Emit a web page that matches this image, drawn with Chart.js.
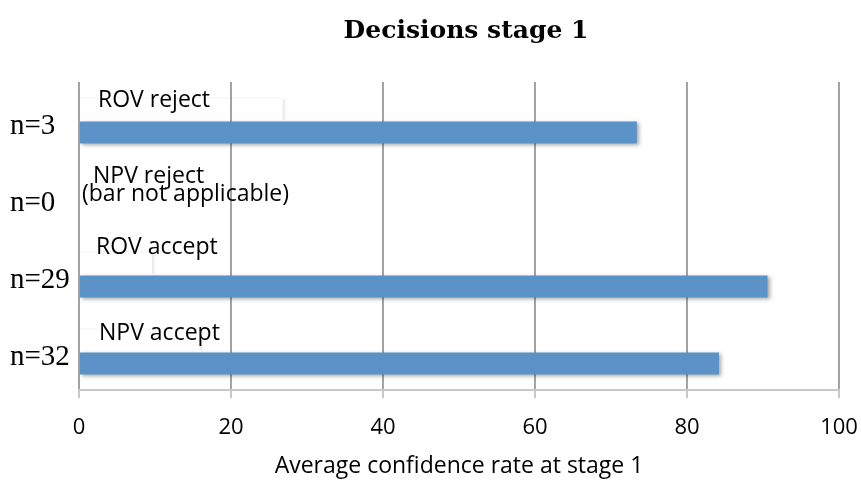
<!DOCTYPE html>
<html>
<head>
<meta charset="utf-8">
<script src="https://cdn.jsdelivr.net/npm/chart.js@4/dist/chart.umd.min.js"></script>
<style>
  html, body { margin: 0; padding: 0; background: #ffffff; }
  #wrap { width: 861px; height: 481px; }
</style>
</head>
<body>
<div id="wrap"><canvas id="c" width="861" height="481"></canvas></div>
<script>
// Decision groups, top to bottom
const categories = ['ROV reject', 'NPV reject', 'ROV accept', 'NPV accept'];
// Sample sizes shown on the left axis
const sampleLabels = ['n=3', 'n=0', 'n=29', 'n=32'];
// Average confidence rate at stage 1 (NPV reject has no respondents)
const confidence = [73.4, null, 90.6, 84.2];
// Extent of the white label boxes that carry each group name
const labelBoxes = [26.8, null, 9.6, 15.9];
const xTicks = [0, 20, 40, 60, 80, 100];

const chartTitle = 'Decisions stage 1';
const xTitle = 'Average confidence rate at stage 1';

// Draws the chart heading, the bar shadows and the group name labels
const decorations = {
  id: 'decorations',
  beforeDatasetDraw(chart, args) {
    const ctx = chart.ctx;
    ctx.save();
    if (args.index === 1) {
      ctx.shadowColor = 'rgba(0,0,0,0.35)';
      ctx.shadowBlur = 4;
      ctx.shadowOffsetX = 2;
      ctx.shadowOffsetY = 2;
    }
  },
  afterDatasetDraw(chart, args) {
    const ctx = chart.ctx;
    ctx.restore();
    if (args.index === 0) {
      // faint soft edge of the label boxes
      const meta = chart.getDatasetMeta(0);
      meta.data.forEach((bar, i) => {
        if (labelBoxes[i] == null) return;
        const p = bar.getProps(['x', 'y', 'base', 'height'], true);
        const top = p.y - p.height / 2;
        ctx.save();
        const g = ctx.createLinearGradient(p.x, 0, p.x + 4, 0);
        g.addColorStop(0, 'rgba(0,0,0,0.10)');
        g.addColorStop(1, 'rgba(0,0,0,0)');
        ctx.fillStyle = g;
        ctx.fillRect(p.x, top + 2, 4, p.height - 2);
        ctx.fillStyle = 'rgba(0,0,0,0.05)';
        ctx.fillRect(p.base, top, p.x - p.base, 1);
        ctx.restore();
      });
    }
  },
  afterDraw(chart) {
    const ctx = chart.ctx;
    const xs = chart.scales.x;
    const ys = chart.scales.y;
    ctx.save();
    // heading
    ctx.fillStyle = '#000000';
    ctx.font = 'bold 25px "DejaVu Serif"';
    ctx.textAlign = 'center';
    ctx.textBaseline = 'middle';
    ctx.fillText(chartTitle, 466, 31);

    // group names inside the label boxes
    const x0 = xs.getPixelForValue(0);
    const nudges = [
      [{dx: 19, dy: -20}],
      [{dx: 14, dy: -21}, {dx: 3, dy: -3}],
      [{dx: 17, dy: -27}],
      [{dx: 20, dy: -18.5}]
    ];
    ctx.font = '23px "Open Sans"';
    ctx.textAlign = 'left';
    categories.forEach((name, i) => {
      const cy = ys.getPixelForValue(i);
      const lines = confidence[i] == null ? [name, '(bar not applicable)'] : [name];
      lines.forEach((t, k) => {
        const n = nudges[i][k];
        ctx.fillText(t, x0 + n.dx, cy + n.dy);
      });
    });
    ctx.restore();
  }
};

new Chart(document.getElementById('c'), {
  type: 'bar',
  data: {
    labels: sampleLabels,
    datasets: [
      {
        label: 'Label boxes',
        data: labelBoxes,
        backgroundColor: 'rgba(255,255,255,0)',
        categoryPercentage: 0.62,
        barPercentage: 0.92
      },
      {
        label: 'Average confidence',
        data: confidence,
        backgroundColor: '#5b93c9',
        categoryPercentage: 0.62,
        barPercentage: 0.92
      }
    ]
  },
  options: {
    indexAxis: 'y',
    responsive: false,
    animation: false,
    events: [],
    layout: { padding: { top: 82, right: 22, left: 10, bottom: 1 } },
    plugins: {
      legend: { display: false },
      tooltip: { enabled: false },
      title: { display: false }
    },
    scales: {
      x: {
        min: 0,
        max: 100,
        afterBuildTicks(scale) {
          scale.ticks = xTicks.map(v => ({ value: v }));
        },
        afterFit(scale) {
          scale.height = 90;
          scale.paddingLeft = 0;
          scale.paddingRight = 0;
        },
        grid: {
          color: '#a3a3a3',
          lineWidth: 2,
          tickLength: 8,
          tickColor: '#c8c8c8'
        },
        border: { display: true, color: '#c8c8c8', width: 2 },
        ticks: {
          color: '#000000',
          font: { family: '"Open Sans"', size: 22 },
          padding: 17
        },
        title: {
          display: true,
          text: xTitle,
          color: '#000000',
          font: { family: '"Open Sans"', size: 23 },
          padding: { top: 0, bottom: 0 }
        }
      },
      y: {
        afterFit(scale) { scale.width = 69; },
        grid: { display: false, drawTicks: false },
        border: { display: false },
        ticks: {
          color: '#000000',
          crossAlign: 'far',
          labelOffset: 6,
          font: { family: '"Liberation Serif"', size: 29 }
        }
      }
    }
  },
  plugins: [decorations]
});
</script>
</body>
</html>
